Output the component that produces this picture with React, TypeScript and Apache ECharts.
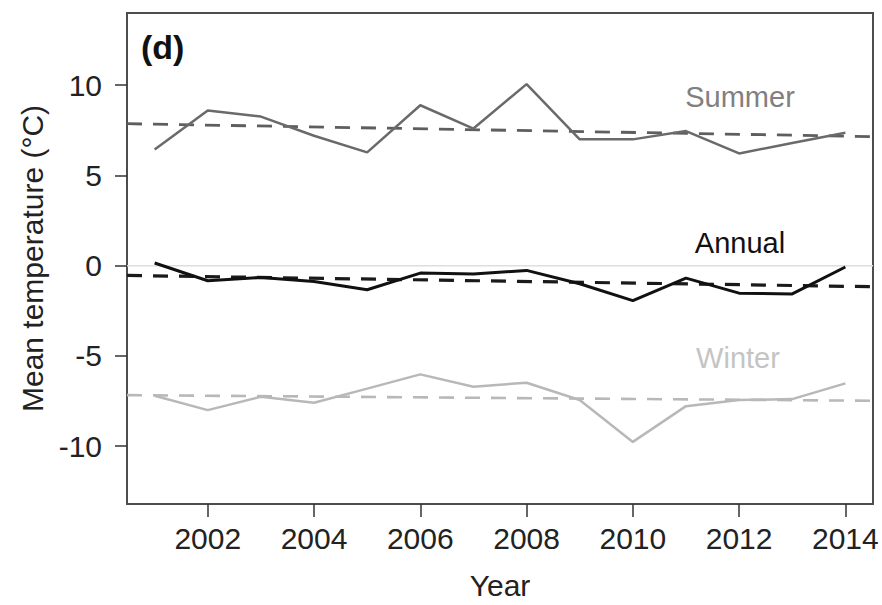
import React, { useEffect, useRef } from "react";
import * as echarts from "echarts";

const years = [2001, 2002, 2003, 2004, 2005, 2006, 2007, 2008, 2009, 2010, 2011, 2012, 2013, 2014];
const summer = [6.44, 8.6, 8.26, 7.2, 6.28, 8.89, 7.6, 10.06, 7.0, 7.0, 7.46, 6.22, 6.8, 7.37];
const annual = [0.15, -0.83, -0.65, -0.87, -1.33, -0.41, -0.46, -0.26, -1.0, -1.93, -0.69, -1.52, -1.56, -0.07];
const winter = [-7.2, -8.0, -7.26, -7.59, -6.81, -6.02, -6.7, -6.48, -7.44, -9.76, -7.78, -7.44, -7.39, -6.52];
// trend values at first and last year
const summerTrend = [7.84, 7.18];
const annualTrend = [-0.56, -1.14];
const winterTrend = [-7.18, -7.47];
const xTicks = [2002, 2004, 2006, 2008, 2010, 2012, 2014];
const yTicks = [-10, -5, 0, 5, 10];
const X_MIN = 2000.48;
const X_MAX = 2014.52;
const Y_MIN = -13.2;
const Y_MAX = 14.0;

const FONT = "Liberation Sans, Arial, sans-serif";

function pairs(vals: number[]) {
  return years.map((y, i) => [y, vals[i]]);
}
function trendLine(t: number[]) {
  const x0 = years[0];
  const x1 = years[years.length - 1];
  const slope = (t[1] - t[0]) / (x1 - x0);
  return [
    [X_MIN, t[0] + slope * (X_MIN - x0)],
    [X_MAX, t[0] + slope * (X_MAX - x0)],
  ];
}

export default function App() {
  const ref = useRef<HTMLDivElement>(null);
  useEffect(() => {
    if (!ref.current) return;
    const chart = echarts.init(ref.current, undefined, { renderer: "svg" });
    const solid = (name: string, vals: number[], color: string, width: number, z: number) => ({
      name,
      type: "line",
      data: pairs(vals),
      showSymbol: false,
      symbol: "none",
      lineStyle: { color, width },
      z,
    });
    const dashed = (name: string, t: number[], color: string, width: number, z: number) => ({
      name,
      type: "line",
      data: trendLine(t),
      showSymbol: false,
      symbol: "none",
      lineStyle: { color, width, type: [15, 11] },
      z,
    });
    chart.setOption({
      animation: false,
      backgroundColor: "#ffffff",
      textStyle: { fontFamily: FONT },
      grid: {
        left: 127,
        right: 9,
        top: 13,
        bottom: 100,
        show: true,
        borderColor: "#4d4d4d",
        borderWidth: 2,
        backgroundColor: "transparent",
      },
      xAxis: {
        type: "value",
        min: X_MIN,
        max: X_MAX,
        name: "Year",
        nameLocation: "middle",
        nameGap: 66,
        nameTextStyle: { fontSize: 30, color: "#222", fontFamily: FONT },
        axisLine: { show: false, onZero: false },
        splitLine: { show: false },
        axisTick: { show: true, length: 13, inside: false, customValues: xTicks, lineStyle: { color: "#333", width: 1.5 } },
        axisLabel: { customValues: xTicks, fontSize: 30, color: "#222", margin: 19, fontFamily: FONT, formatter: (v: number) => String(v) },
      },
      yAxis: {
        type: "value",
        min: Y_MIN,
        max: Y_MAX,
        name: "Mean temperature (°C)",
        nameLocation: "middle",
        nameRotate: 90,
        nameGap: 76,
        nameTextStyle: { fontSize: 30, color: "#222", fontFamily: FONT },
        axisLine: { show: false, onZero: false },
        splitLine: { show: false },
        axisTick: { show: true, length: 12, inside: false, customValues: yTicks, lineStyle: { color: "#333", width: 1.5 } },
        axisLabel: { customValues: yTicks, fontSize: 30, color: "#222", margin: 25, fontFamily: FONT, formatter: (v: number) => String(v) },
      },
      series: [
        {
          name: "zero",
          type: "line",
          data: [[X_MIN, 0], [X_MAX, 0]],
          showSymbol: false,
          symbol: "none",
          lineStyle: { color: "#dedede", width: 1.5 },
          z: 1,
        },
        dashed("Summer trend", summerTrend, "#5e5e5e", 2.8, 2),
        dashed("Annual trend", annualTrend, "#1a1a1a", 3.2, 2),
        dashed("Winter trend", winterTrend, "#b8b8b8", 2.6, 2),
        solid("Summer", summer, "#6a6a6a", 2.5, 3),
        solid("Winter", winter, "#b8b8b8", 2.5, 3),
        solid("Annual", annual, "#111111", 3, 4),
      ],
      graphic: [
        { type: "text", left: 141, top: 30, style: { text: "(d)", font: `bold 34px ${FONT}`, fill: "#111" } },
        { type: "text", x: 740, y: 97, style: { text: "Summer", font: `29px ${FONT}`, fill: "#808080", align: "center", verticalAlign: "middle" } },
        { type: "text", x: 740, y: 243, style: { text: "Annual", font: `29px ${FONT}`, fill: "#111", align: "center", verticalAlign: "middle" } },
        { type: "text", x: 738, y: 358, style: { text: "Winter", font: `29px ${FONT}`, fill: "#c4c4c4", align: "center", verticalAlign: "middle" } },
      ],
    });
    return () => chart.dispose();
  }, []);
  return (
    <div
      ref={ref}
      style={{ position: "absolute", left: 0, top: 0, width: 882, height: 605, background: "#fff" }}
    />
  );
}
